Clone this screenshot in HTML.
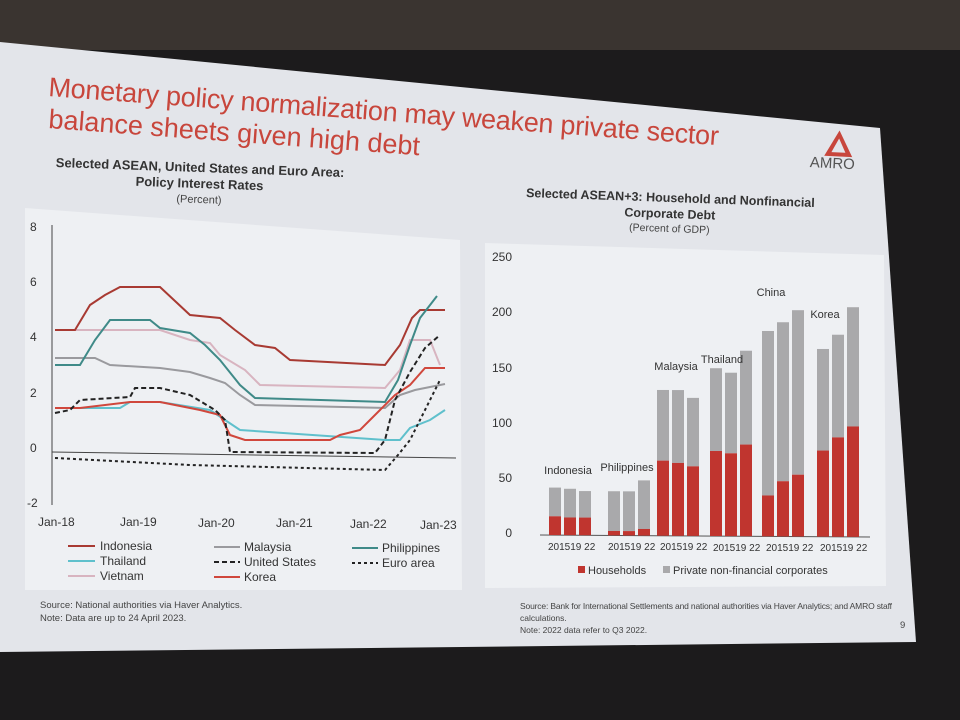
<!DOCTYPE html>
<html><head><meta charset="utf-8"><style>
html,body{margin:0;padding:0;background:#1c1b1c;width:960px;height:720px;overflow:hidden}
svg{display:block}
text{font-family:"Liberation Sans",sans-serif}
</style></head><body>
<svg width="960" height="720" viewBox="0 0 960 720">
<rect width="960" height="720" fill="#1c1b1c"/>
<rect x="0" y="0" width="960" height="50" fill="#3a3430"/>
<polygon points="0,42 880,128 916,642 0,652" fill="#e3e5ea"/>
<g fill="#c8463c" font-size="27">
<text x="48" y="96" transform="rotate(4.2 48 96)" textLength="672">Monetary policy normalization may weaken private sector</text>
<text x="48" y="128" transform="rotate(4.2 48 128)">balance sheets given high debt</text>
</g>
<g transform="rotate(3 830 160)">
<polygon points="838,130 824,156 852,156" fill="#c8463c"/>
<polygon points="838,138 831,152 845,152" fill="#e3e5ea"/>
<text x="810" y="168" font-size="15" fill="#555">AMRO</text>
</g>
<g transform="rotate(2 200 170)" text-anchor="middle">
<text x="200" y="172" font-size="13" font-weight="bold" fill="#333">Selected ASEAN, United States and Euro Area:</text>
<text x="200" y="188" font-size="13" font-weight="bold" fill="#333">Policy Interest Rates</text>
<text x="200" y="203" font-size="11" fill="#444">(Percent)</text>
</g>
<polygon points="25,208 460,240 462,590 25,590" fill="#eef0f3"/>
<g font-size="12" fill="#333">
<text x="30" y="231">8</text><text x="30" y="286">6</text><text x="30" y="341">4</text>
<text x="30" y="397">2</text><text x="30" y="452">0</text><text x="27" y="507">-2</text>
<text x="38" y="526">Jan-18</text><text x="120" y="526">Jan-19</text><text x="198" y="527">Jan-20</text>
<text x="276" y="527">Jan-21</text><text x="350" y="528">Jan-22</text><text x="420" y="529">Jan-23</text>
</g>
<line x1="52" y1="225" x2="52" y2="505" stroke="#444" stroke-width="1"/>
<line x1="52" y1="452" x2="456" y2="458" stroke="#444" stroke-width="1"/>
<g fill="none" stroke-width="2">
<polyline stroke="#d8b4c0" points="55,330 160,330 190,340 210,343 220,355 245,370 260,385 385,388 400,370 410,340 430,340 440,365"/>
<polyline stroke="#9a9a9e" points="55,358 95,358 110,365 160,368 190,372 210,378 225,383 240,395 255,405 385,408 400,395 415,390 445,384"/>
<polyline stroke="#a83a32" points="55,330 75,330 90,305 105,295 120,287 160,287 190,315 220,318 235,330 255,345 275,348 290,360 385,365 400,345 412,318 420,310 445,310"/>
<polyline stroke="#3f8a88" points="55,365 80,365 95,340 110,320 150,320 160,328 190,333 205,345 220,360 240,385 255,398 385,402 398,380 410,345 420,318 437,296"/>
<polyline stroke="#5fc0cc" points="55,408 120,408 130,402 160,402 210,410 225,420 240,430 385,440 400,440 410,428 430,420 445,410"/>
<polyline stroke="#d0473c" points="55,408 80,408 130,402 160,402 200,410 220,415 230,435 245,440 330,440 340,435 360,430 380,410 395,395 410,385 425,368 445,368"/>
<polyline stroke="#222" stroke-dasharray="5,3" points="55,413 70,410 80,400 130,397 135,388 160,388 190,395 215,410 225,420 230,452 375,453 385,440 395,400 410,372 425,348 440,335"/>
<polyline stroke="#222" stroke-dasharray="3,3" points="55,458 190,465 385,470 398,455 410,440 425,410 440,380"/>
</g>
<g font-size="12" fill="#333" stroke-width="2">
<line x1="68" y1="546" x2="95" y2="546" stroke="#a83a32"/><text x="100" y="550">Indonesia</text>
<line x1="214" y1="547" x2="240" y2="547" stroke="#9a9a9e"/><text x="244" y="551">Malaysia</text>
<line x1="352" y1="548" x2="378" y2="548" stroke="#3f8a88"/><text x="382" y="552">Philippines</text>
<line x1="68" y1="561" x2="95" y2="561" stroke="#5fc0cc"/><text x="100" y="565">Thailand</text>
<line x1="214" y1="562" x2="240" y2="562" stroke="#222" stroke-dasharray="5,3"/><text x="244" y="566">United States</text>
<line x1="352" y1="563" x2="378" y2="563" stroke="#222" stroke-dasharray="3,3"/><text x="382" y="567">Euro area</text>
<line x1="68" y1="576" x2="95" y2="576" stroke="#d8b4c0"/><text x="100" y="580">Vietnam</text>
<line x1="214" y1="577" x2="240" y2="577" stroke="#d0473c"/><text x="244" y="581">Korea</text>
</g>
<g font-size="9.5" fill="#444">
<text x="40" y="608">Source: National authorities via Haver Analytics.</text>
<text x="40" y="621">Note: Data are up to 24 April 2023.</text>
</g>
<g font-size="8.5" fill="#444">
<text x="520" y="609" textLength="372">Source: Bank for International Settlements and national authorities via Haver Analytics; and AMRO staff</text>
<text x="520" y="621">calculations.</text>
<text x="520" y="633">Note: 2022 data refer to Q3 2022.</text>
<text x="900" y="628" font-size="9.5">9</text>
</g>
<g transform="rotate(2 670 210)" text-anchor="middle">
<text x="670" y="202" font-size="12.5" font-weight="bold" fill="#333">Selected ASEAN+3: Household and Nonfinancial</text>
<text x="670" y="218" font-size="12.5" font-weight="bold" fill="#333">Corporate Debt</text>
<text x="670" y="232" font-size="10.5" fill="#444">(Percent of GDP)</text>
</g>
<polygon points="485,243 884,255 886,586 485,588" fill="#eef0f3"/>
<g font-size="12" fill="#333" text-anchor="end">
<text x="512" y="261">250</text><text x="512" y="316">200</text><text x="512" y="372">150</text>
<text x="512" y="427">100</text><text x="512" y="482">50</text><text x="512" y="537">0</text>
</g>
<line x1="540" y1="535" x2="870" y2="537" stroke="#555"/>
<g id="bars"></g>
<g font-size="11" fill="#333" text-anchor="middle">
<text x="568" y="474">Indonesia</text><text x="627" y="471">Philippines</text>
<text x="676" y="370">Malaysia</text><text x="722" y="363">Thailand</text>
<text x="771" y="296">China</text><text x="825" y="318">Korea</text>
</g>
<g font-size="10" fill="#333">
<text x="548" y="550">201519  22</text><text x="608" y="550">201519  22</text><text x="660" y="550">201519  22</text>
<text x="713" y="551">201519  22</text><text x="766" y="551">201519  22</text><text x="820" y="551">201519  22</text>
</g>
<rect x="578" y="566" width="7" height="7" fill="#c0352f"/><text x="588" y="574" font-size="11" fill="#333">Households</text>
<rect x="663" y="566" width="7" height="7" fill="#a9a9ab"/><text x="673" y="574" font-size="11" fill="#333">Private non-financial corporates</text>
<script>
var g=document.getElementById('bars');
var groups=[[549,[43,42,40],[17,16,16]],[608,[40,40,50],[4,4,6]],[657,[132,132,125],[68,66,63]],[710,[152,148,168],[77,75,83]],[762,[186,194,205],[37,50,56]],[817,[170,183,208],[78,90,100]]];
var s=55.2/50,ns='http://www.w3.org/2000/svg';
groups.forEach(function(gr,i){for(var j=0;j<3;j++){var x=gr[0]+j*15,base=535+(x-540)*0.006;
var t=gr[1][j]*s,h=gr[2][j]*s;
var r=document.createElementNS(ns,'rect');r.setAttribute('x',x);r.setAttribute('y',base-t);r.setAttribute('width',12);r.setAttribute('height',t-h);r.setAttribute('fill','#a9a9ab');g.appendChild(r);
r=document.createElementNS(ns,'rect');r.setAttribute('x',x);r.setAttribute('y',base-h);r.setAttribute('width',12);r.setAttribute('height',h);r.setAttribute('fill','#c0352f');g.appendChild(r);}});
</script>
</svg>
</body></html>
